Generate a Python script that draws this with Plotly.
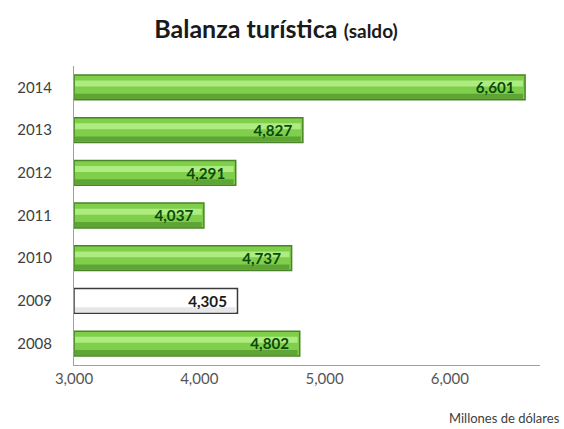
import plotly.graph_objects as go

years = ["2008", "2009", "2010", "2011", "2012", "2013", "2014"]
values = [4802, 4305, 4737, 4037, 4291, 4827, 6601]
labels = ["4,802", "4,305", "4,737", "4,037", "4,291", "4,827", "6,601"]
tick_vals = [3000, 4000, 5000, 6000]
tick_text = ["3,000", "4,000", "5,000", "6,000"]

fills = ["#ffffff" if y == "2009" else "#7fcf4a" for y in years]
edges = ["#3a3a3a" if y == "2009" else "#4a8428" for y in years]
hi = ["#ffffff" if y == "2009" else "#aeec82" for y in years]
lo = ["#e6e6e6" if y == "2009" else "#5fa536" for y in years]
txtc = ["#1a1a1a" if y == "2009" else "#0b4a0b" for y in years]

lengths = [v - 3000 for v in values]

fig = go.Figure()
fig.add_trace(go.Bar(
    y=years, x=lengths, base=3000, orientation="h",
    marker=dict(color=fills, line=dict(color=edges, width=1.5)),
    width=0.58, hoverinfo="skip",
))
fig.add_trace(go.Bar(
    y=years, x=[v - 25 for v in lengths], base=3008, orientation="h",
    marker=dict(color=lo, line=dict(width=0)),
    width=0.12, offset=-0.27, hoverinfo="skip",
))
fig.add_trace(go.Bar(
    y=years, x=[v - 25 for v in lengths], base=3008, orientation="h",
    marker=dict(color=hi, line=dict(width=0)),
    width=0.14, offset=0.02, hoverinfo="skip",
))
fig.add_trace(go.Bar(
    y=years, x=[v - 60 for v in lengths], base=3000, orientation="h",
    marker=dict(color="rgba(0,0,0,0)", line=dict(width=0)),
    width=0.58, text=labels, texttemplate="<b>%{text}</b>",
    textposition="inside", insidetextanchor="end",
    textfont=dict(family="Lato, Open Sans, sans-serif", size=17, color=txtc),
    textangle=0, hoverinfo="skip",
))

fig.update_layout(
    width=564, height=429, barmode="overlay", showlegend=False,
    paper_bgcolor="white", plot_bgcolor="white",
    margin=dict(l=74, r=24, t=66, b=64, autoexpand=False),
    font=dict(family="Lato, Open Sans, sans-serif", color="#404040"),
    title=dict(
        text="<b>Balanza turística</b> <b><span style='font-size:19px'>(saldo)</span></b>",
        x=276 / 564, xanchor="center", y=1 - 29 / 429, yanchor="middle",
        font=dict(family="Lato, Open Sans, sans-serif", size=25, color="#1a1a1a"),
    ),
    xaxis=dict(
        range=[3000, 6720], tickvals=tick_vals, ticktext=tick_text,
        showgrid=False, zeroline=False, showline=True, linecolor="#a0a0a0",
        linewidth=1, ticks="", automargin=False,
        tickfont=dict(size=15, color="#555555"),
    ),
    yaxis=dict(
        showgrid=False, zeroline=False, showline=True, linecolor="#a0a0a0",
        linewidth=1, ticks="", ticklabelstandoff=18, automargin=False,
        tickfont=dict(size=15, color="#404040"),
    ),
    annotations=[dict(
        text="Millones de dólares", xref="paper", yref="paper",
        x=1 + 22 / 466, y=-53 / 299, xanchor="right", yanchor="middle",
        showarrow=False, font=dict(size=13, color="#404040"),
    )],
)

fig.write_html("out.html", config={"displayModeBar": False},
               post_script="document.body.style.margin='0';")
